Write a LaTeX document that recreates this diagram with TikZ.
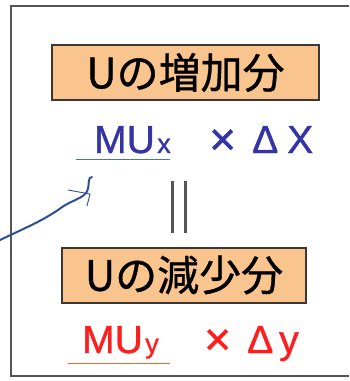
\documentclass[tikz,border=0pt]{standalone}
\usepackage{fontspec}
\setmainfont{Liberation Sans}[FakeBold=1.0]
\newfontfamily\jpfont{Noto Sans CJK JP}[FakeBold=0.8]
\definecolor{boxfill}{RGB}{250,196,142}
\definecolor{boxline}{RGB}{60,55,50}
\definecolor{frameline}{RGB}{85,85,85}
\definecolor{mublue}{RGB}{52,52,165}
\definecolor{mured}{RGB}{255,30,30}
\definecolor{ulblue}{RGB}{68,114,196}
\definecolor{ulred}{RGB}{250,100,40}
\definecolor{penblue}{RGB}{46,78,150}
\begin{document}
\begin{tikzpicture}[x=1pt,y=-1pt,
  labelbox/.style={draw=boxline,line width=2pt,fill=boxfill,minimum width=#1,minimum height=55pt,inner sep=0pt,font=\jpfont\fontsize{42}{42}\selectfont},
  bigtxt/.style={anchor=base west,inner sep=0pt,font=\fontsize{39}{39}\selectfont},
  subtxt/.style={anchor=base west,inner sep=0pt,font=\fontsize{27}{27}\selectfont},
  timestxt/.style={anchor=base west,inner sep=0pt,font=\fontsize{46}{46}\selectfont},
  frame/.style={draw=frameline,line width=2.4pt},
  pen/.style={draw=penblue,line width=2pt,line cap=round,line join=round}]
\useasboundingbox (0,0) rectangle (349,381);
% frame
\draw[frame] (349,6) -- (11,6) -- (11,376) -- (349,376);
% boxes
\node[labelbox=267pt] (up) at (185.5,72.5) {Uの増加分};
\node[labelbox=244pt] (down) at (184,275) {Uの減少分};
% blue formula
\node[bigtxt,text=mublue] (mux) at (94,153) {MU};
\node[subtxt,text=mublue] (mux-s) at ([xshift=2pt]mux.base east) {x};
\node[timestxt,text=mublue] (timesx) at (209,155) {×};
\node[bigtxt,text=mublue] (deltax) at (252,153) {Δ};
\node[bigtxt,text=mublue] (xx) at (287,153) {X};
\draw[ulblue,line width=1pt] (76,159) -- (170,159);
% equals (vertical)
\draw[frameline,line width=3pt] (172,181) -- (172,233) (185,181) -- (185,233);
% red formula
\node[bigtxt,text=mured] (muy) at (82,353) {MU};
\node[subtxt,text=mured] (muy-s) at ([xshift=2pt]muy.base east) {y};
\node[timestxt,text=mured] (timesy) at (204,355) {×};
\node[bigtxt,text=mured] (deltay) at (247,353) {Δ};
\node[bigtxt,text=mured] (yy) at (279,353) {y};
\draw[ulred,line width=1pt] (68,363) -- (170,363);
% handwritten arrow
\coordinate (penA) at (0,240);
\coordinate (penB) at (90,178);
\draw[pen] (penA) .. controls (25,228) and (40,222) .. (58,210)
  .. controls (68,202) and (78,200) .. (84,195)
  .. controls (90,190) and (88,184) .. (89,180) -- (penB) -- (92,177);
\draw[penblue,line width=0.9pt] (68,190) -- (90,194) .. controls (89,198) .. (87,206);
\end{tikzpicture}
\end{document}
